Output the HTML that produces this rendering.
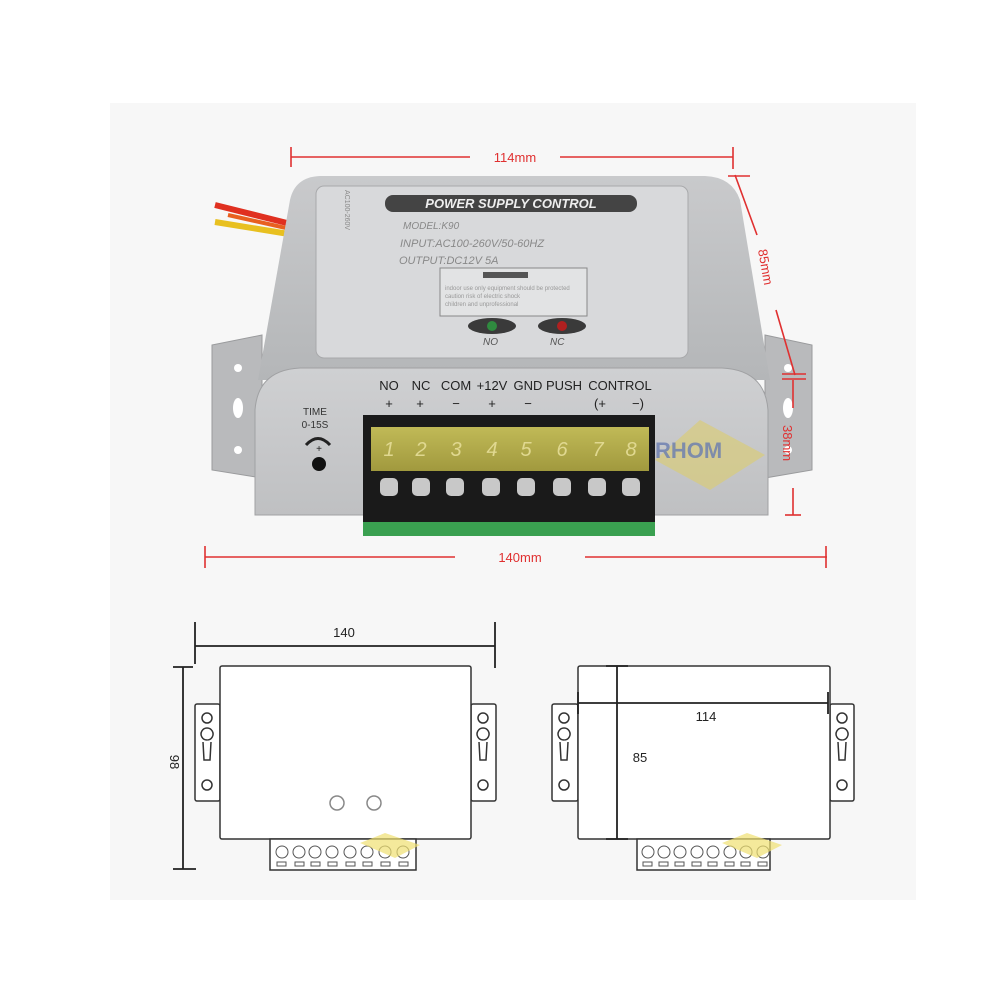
<!DOCTYPE html>
<html><head><meta charset="utf-8"><style>
html,body{margin:0;padding:0;background:#fff;}
svg{display:block}
text{font-family:"Liberation Sans",sans-serif}
</style></head><body>
<svg width="1000" height="1000" viewBox="0 0 1000 1000" xmlns="http://www.w3.org/2000/svg">
<defs>
<linearGradient id="top" x1="0" y1="0" x2="0" y2="1"><stop offset="0" stop-color="#c9cacc"/><stop offset="1" stop-color="#b4b6b8"/></linearGradient>
<linearGradient id="front" x1="0" y1="0" x2="0" y2="1"><stop offset="0" stop-color="#cfd0d2"/><stop offset="1" stop-color="#bfc0c2"/></linearGradient>
<linearGradient id="yel" x1="0" y1="0" x2="0" y2="1"><stop offset="0" stop-color="#c9c25a"/><stop offset="1" stop-color="#a8a040"/></linearGradient>
</defs>
<rect x="110" y="103" width="806" height="797" fill="#f7f7f7"/>

<!-- wires -->
<path d="M215 205 L295 225" stroke="#e03020" stroke-width="6" fill="none"/>
<path d="M215 222 L295 235" stroke="#e8c020" stroke-width="6" fill="none"/>
<path d="M228 215 L295 230" stroke="#e86020" stroke-width="4" fill="none"/>

<!-- flanges -->
<path d="M212 345 L262 335 L262 478 L212 470 Z" fill="#b9babc" stroke="#9a9b9d"/>
<path d="M765 335 L812 345 L812 470 L765 478 Z" fill="#b9babc" stroke="#9a9b9d"/>
<circle cx="238" cy="368" r="4" fill="#fff"/><circle cx="238" cy="450" r="4" fill="#fff"/>
<ellipse cx="238" cy="408" rx="5" ry="10" fill="#fff"/>
<circle cx="788" cy="368" r="4" fill="#fff"/><circle cx="788" cy="450" r="4" fill="#fff"/>
<ellipse cx="788" cy="408" rx="5" ry="10" fill="#fff"/>

<!-- body top -->
<path d="M258 380 L290 200 Q295 177 320 176 L705 176 Q732 177 740 200 L770 380 Z" fill="url(#top)"/>
<rect x="316" y="186" width="372" height="172" rx="8" fill="#d8d9db" stroke="#a8a9ab"/>
<rect x="385" y="195" width="252" height="17" rx="8" fill="#444"/>
<text x="511" y="208" text-anchor="middle" font-size="13" font-weight="bold" font-style="italic" fill="#eee">POWER SUPPLY CONTROL</text>
<text x="403" y="229" font-size="10" font-style="italic" fill="#888">MODEL:K90</text>
<text x="400" y="247" font-size="11" font-style="italic" fill="#888">INPUT:AC100-260V/50-60HZ</text>
<text x="399" y="264" font-size="11" font-style="italic" fill="#888">OUTPUT:DC12V 5A</text>
<text x="345" y="190" font-size="7" fill="#888" transform="rotate(90 345 190)">AC100-260V</text>
<rect x="440" y="268" width="147" height="48" fill="#e2e3e4" stroke="#888"/>
<rect x="483" y="272" width="45" height="6" fill="#555"/>
<text x="445" y="290" font-size="6" fill="#999">indoor use only equipment should be protected</text>
<text x="445" y="298" font-size="6" fill="#999">caution risk of electric shock</text>
<text x="445" y="306" font-size="6" fill="#999">children and unprofessional</text>
<ellipse cx="492" cy="326" rx="24" ry="8" fill="#3a3a3a"/><circle cx="492" cy="326" r="5" fill="#2f8a3f"/>
<ellipse cx="562" cy="326" rx="24" ry="8" fill="#3a3a3a"/><circle cx="562" cy="326" r="5" fill="#b02020"/>
<text x="483" y="345" font-size="10" font-style="italic" fill="#555">NO</text>
<text x="550" y="345" font-size="10" font-style="italic" fill="#555">NC</text>

<!-- front face -->
<path d="M255 515 L255 410 Q258 370 300 368 L722 368 Q765 370 768 410 L768 515 Z" fill="url(#front)" stroke="#a0a1a3"/>
<g font-size="13" fill="#222" text-anchor="middle">
<text x="389" y="390">NO</text><text x="421" y="390">NC</text><text x="456" y="390">COM</text>
<text x="492" y="390">+12V</text><text x="528" y="390">GND</text><text x="564" y="390">PUSH</text><text x="620" y="390">CONTROL</text>
<text x="389" y="408">+</text><text x="420" y="408">+</text><text x="456" y="408">−</text><text x="492" y="408">+</text><text x="528" y="408">−</text><text x="600" y="408">(+</text><text x="638" y="408">−)</text>
</g>
<text x="315" y="415" font-size="10" text-anchor="middle" fill="#333">TIME</text>
<text x="315" y="428" font-size="10" text-anchor="middle" fill="#333">0-15S</text>
<path d="M306 445 Q318 432 330 445" stroke="#222" stroke-width="3" fill="none"/>
<text x="319" y="452" font-size="10" text-anchor="middle" fill="#222">+</text>
<circle cx="319" cy="464" r="7" fill="#111"/>

<!-- watermark -->
<path d="M655 460 L700 420 L765 455 L710 490 Z" fill="#d8cc7a" opacity="0.7"/>
<text x="655" y="458" font-size="22" font-weight="bold" fill="#6a7db0" opacity="0.8">RHOM</text>

<!-- terminal block -->
<rect x="363" y="415" width="292" height="120" fill="#1a1a1a"/>
<rect x="363" y="522" width="292" height="14" fill="#3aa050"/>
<rect x="371" y="427" width="278" height="44" fill="url(#yel)" opacity="0.95"/>
<g font-size="20" fill="#e0d890" text-anchor="middle" font-style="italic">
<text x="389" y="456">1</text><text x="421" y="456">2</text><text x="456" y="456">3</text><text x="492" y="456">4</text><text x="526" y="456">5</text><text x="562" y="456">6</text><text x="598" y="456">7</text><text x="631" y="456">8</text>
</g>
<g fill="#c8c8c8">
<rect x="380" y="478" width="18" height="18" rx="5"/><rect x="412" y="478" width="18" height="18" rx="5"/><rect x="446" y="478" width="18" height="18" rx="5"/><rect x="482" y="478" width="18" height="18" rx="5"/><rect x="517" y="478" width="18" height="18" rx="5"/><rect x="553" y="478" width="18" height="18" rx="5"/><rect x="588" y="478" width="18" height="18" rx="5"/><rect x="622" y="478" width="18" height="18" rx="5"/>
</g>

<!-- red dimensions -->
<g stroke="#e03030" stroke-width="1.6" fill="none">
<line x1="291" y1="157" x2="470" y2="157"/><line x1="560" y1="157" x2="733" y2="157"/>
<line x1="291" y1="147" x2="291" y2="167"/><line x1="733" y1="147" x2="733" y2="169"/>
<line x1="735" y1="175" x2="757" y2="235"/><line x1="776" y1="310" x2="795" y2="375"/>
<line x1="728" y1="176" x2="750" y2="176"/><line x1="782" y1="374" x2="806" y2="374"/><line x1="782" y1="379" x2="806" y2="379"/>
<line x1="793" y1="380" x2="793" y2="408"/><line x1="793" y1="488" x2="793" y2="515"/><line x1="785" y1="515" x2="801" y2="515"/>
<line x1="205" y1="557" x2="455" y2="557"/><line x1="585" y1="557" x2="827" y2="557"/>
<line x1="205" y1="546" x2="205" y2="568"/><line x1="826" y1="546" x2="826" y2="568"/>
</g>
<text x="515" y="162" font-size="13" text-anchor="middle" fill="#e03030">114mm</text>
<text x="520" y="562" font-size="13" text-anchor="middle" fill="#e03030">140mm</text>
<text x="758" y="250" font-size="13" fill="#e03030" transform="rotate(80 758 250)">85mm</text>
<text x="783" y="425" font-size="13" fill="#e03030" transform="rotate(90 783 425)">38mm</text>

<!-- left drawing -->
<g stroke="#333" stroke-width="1.5" fill="#fff">
<rect x="195" y="704" width="25" height="97" rx="2"/>
<rect x="471" y="704" width="25" height="97" rx="2"/>
<rect x="220" y="666" width="251" height="173" rx="2"/>
<rect x="270" y="839" width="146" height="31"/>
<circle cx="207" cy="718" r="5"/><circle cx="207" cy="785" r="5"/>
<circle cx="483" cy="718" r="5"/><circle cx="483" cy="785" r="5"/>
<path d="M207 740 a6 6 0 1 1 0.1 0 M203 742 L204 760 L210 760 L211 742" />
<path d="M483 740 a6 6 0 1 1 0.1 0 M479 742 L480 760 L486 760 L487 742" />
</g>
<circle cx="337" cy="803" r="7" fill="#fff" stroke="#888" stroke-width="1.5"/>
<circle cx="374" cy="803" r="7" fill="#fff" stroke="#888" stroke-width="1.5"/>
<g stroke="#555" fill="none" stroke-width="1">
<circle cx="282" cy="852" r="6"/><circle cx="299" cy="852" r="6"/><circle cx="315" cy="852" r="6"/><circle cx="332" cy="852" r="6"/><circle cx="350" cy="852" r="6"/><circle cx="367" cy="852" r="6"/><circle cx="385" cy="852" r="6"/><circle cx="403" cy="852" r="6"/>
<rect x="277" y="862" width="9" height="4"/><rect x="295" y="862" width="9" height="4"/><rect x="311" y="862" width="9" height="4"/><rect x="328" y="862" width="9" height="4"/><rect x="346" y="862" width="9" height="4"/><rect x="363" y="862" width="9" height="4"/><rect x="381" y="862" width="9" height="4"/><rect x="399" y="862" width="9" height="4"/>
</g>
<path d="M360 843 L385 833 L420 845 L395 858 Z" fill="#f0e070" opacity="0.7"/>
<g stroke="#222" stroke-width="1.8" fill="none">
<line x1="195" y1="646" x2="495" y2="646"/>
<line x1="195" y1="622" x2="195" y2="664"/><line x1="495" y1="622" x2="495" y2="668"/>
<line x1="183" y1="667" x2="183" y2="869"/>
<line x1="173" y1="667" x2="193" y2="667"/><line x1="173" y1="869" x2="196" y2="869"/>
</g>
<text x="344" y="637" font-size="13" text-anchor="middle" fill="#222">140</text>
<text x="170" y="762" font-size="13" text-anchor="middle" fill="#222" transform="rotate(90 170 762)">98</text>

<!-- right drawing -->
<g stroke="#333" stroke-width="1.5" fill="#fff">
<rect x="552" y="704" width="26" height="97" rx="2"/>
<rect x="830" y="704" width="24" height="97" rx="2"/>
<rect x="578" y="666" width="252" height="173" rx="2"/>
<rect x="637" y="839" width="133" height="31"/>
<circle cx="564" cy="718" r="5"/><circle cx="564" cy="785" r="5"/>
<circle cx="842" cy="718" r="5"/><circle cx="842" cy="785" r="5"/>
<path d="M564 740 a6 6 0 1 1 0.1 0 M560 742 L561 760 L567 760 L568 742" />
<path d="M842 740 a6 6 0 1 1 0.1 0 M838 742 L839 760 L845 760 L846 742" />
</g>
<g stroke="#555" fill="none" stroke-width="1">
<circle cx="648" cy="852" r="6"/><circle cx="664" cy="852" r="6"/><circle cx="680" cy="852" r="6"/><circle cx="697" cy="852" r="6"/><circle cx="713" cy="852" r="6"/><circle cx="730" cy="852" r="6"/><circle cx="746" cy="852" r="6"/><circle cx="763" cy="852" r="6"/>
<rect x="643" y="862" width="9" height="4"/><rect x="659" y="862" width="9" height="4"/><rect x="675" y="862" width="9" height="4"/><rect x="692" y="862" width="9" height="4"/><rect x="708" y="862" width="9" height="4"/><rect x="725" y="862" width="9" height="4"/><rect x="741" y="862" width="9" height="4"/><rect x="758" y="862" width="9" height="4"/>
</g>
<path d="M722 843 L747 833 L782 845 L757 858 Z" fill="#f0e070" opacity="0.7"/>
<g stroke="#222" stroke-width="1.8" fill="none">
<line x1="578" y1="703" x2="828" y2="703"/>
<line x1="578" y1="692" x2="578" y2="714"/><line x1="828" y1="692" x2="828" y2="714"/>
<line x1="617" y1="666" x2="617" y2="839"/>
<line x1="606" y1="666" x2="628" y2="666"/><line x1="606" y1="839" x2="628" y2="839"/>
</g>
<text x="706" y="721" font-size="13" text-anchor="middle" fill="#222">114</text>
<text x="640" y="762" font-size="13" text-anchor="middle" fill="#222">85</text>
</svg>
</body></html>
